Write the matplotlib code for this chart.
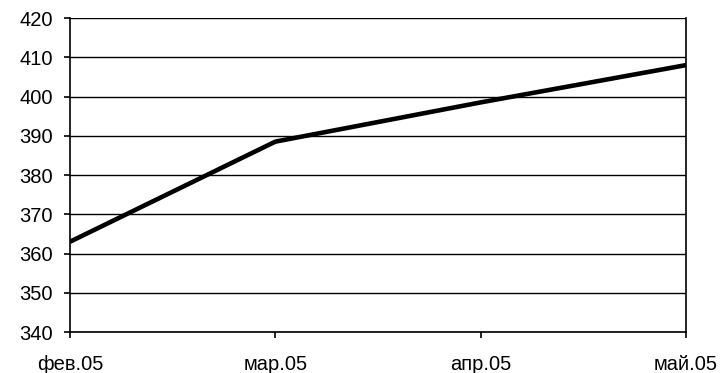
import matplotlib.pyplot as plt

months = ['фев.05', 'мар.05', 'апр.05', 'май.05']
values = [363, 388.5, 398.5, 408]
yticks = list(range(340, 421, 10))

plt.rcParams['font.family'] = ['Liberation Sans', 'DejaVu Sans']

fig = plt.figure(figsize=(7.23, 3.73), dpi=100)
ax = fig.add_axes([0.0968, 0.1099, 0.852, 0.8418])

x = list(range(len(months)))
ax.plot(x, values, color='black', linewidth=3.3, solid_capstyle='butt', zorder=3)

ax.set_xlim(0, len(months) - 1)
ax.set_ylim(340, 420)
ax.set_xticks(x)
ax.set_xticklabels(months)
ax.set_yticks(yticks)
ax.yaxis.grid(True, color='black', linewidth=1)
ax.set_axisbelow(True)

ax.spines['top'].set_visible(False)
for s in ['left', 'bottom', 'right']:
    ax.spines[s].set_linewidth(1.2)
    ax.spines[s].set_color('black')

ax.tick_params(axis='both', direction='out', length=4.5, width=1.2,
               labelsize=14.5, colors='black')
ax.tick_params(axis='x', pad=12)
ax.tick_params(axis='y', pad=8)

fig.savefig('out.png', dpi=100)
